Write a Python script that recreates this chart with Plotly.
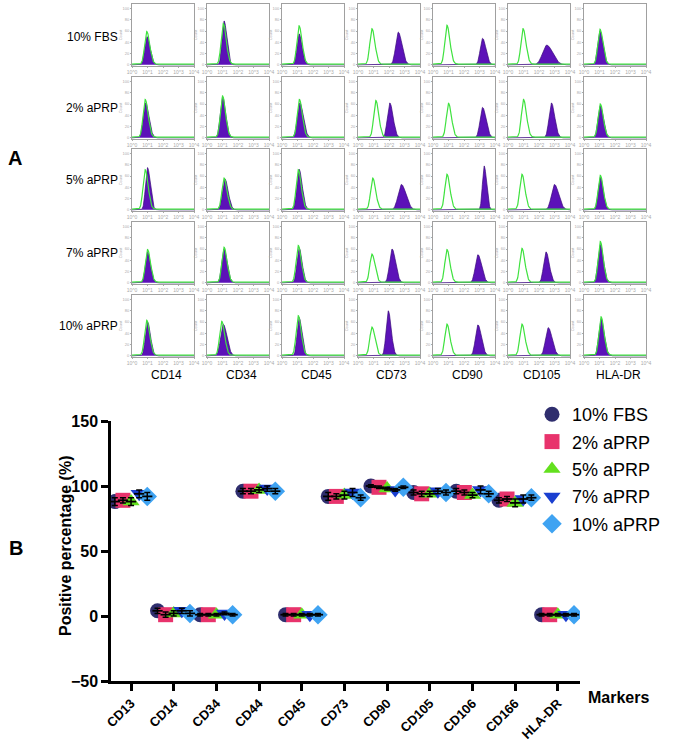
import plotly.graph_objects as go
import numpy as np

W, H = 685, 755
def fx(px): return px / W
def fy(py): return 1 - py / H

# ---------------- Panel A data (flow cytometry histograms) ----------------
hist_markers = ["CD14", "CD34", "CD45", "CD73", "CD90", "CD105", "HLA-DR"]
conditions = ["10% FBS", "2% aPRP", "5% aPRP", "7% aPRP", "10% aPRP"]
# isotype control (green) peak position in log10 units, relative height
iso_log = [[0.95, 1.05, 1.10, 0.90, 0.90, 0.97, 1.03],
           [0.85, 1.00, 1.12, 1.15, 1.00, 1.00, 1.05],
           [0.85, 1.10, 1.05, 0.95, 0.90, 0.90, 1.05],
           [1.00, 1.10, 1.05, 0.90, 0.90, 0.90, 1.05],
           [0.95, 0.95, 1.05, 0.90, 0.90, 0.90, 1.10]]
iso_h = [[0.58, 0.72, 0.68, 0.63, 0.69, 0.63, 0.62],
         [0.67, 0.73, 0.67, 0.65, 0.60, 0.67, 0.59],
         [0.70, 0.55, 0.70, 0.55, 0.62, 0.62, 0.60],
         [0.58, 0.62, 0.65, 0.50, 0.58, 0.60, 0.72],
         [0.62, 0.60, 0.70, 0.50, 0.55, 0.55, 0.68]]
# stained sample (purple) peak position, height, spread (log10 units)
pos_log = [[0.97, 1.10, 1.10, 2.60, 3.20, 2.50, 1.03],
           [0.88, 1.00, 1.15, 2.05, 3.20, 2.80, 1.05],
           [1.00, 1.15, 1.10, 2.80, 3.30, 3.00, 1.05],
           [1.00, 1.10, 1.10, 2.20, 2.90, 2.45, 1.05],
           [1.00, 1.05, 1.10, 1.95, 2.90, 2.60, 1.10]]
pos_h = [[0.50, 0.78, 0.55, 0.58, 0.47, 0.35, 0.60],
         [0.62, 0.73, 0.62, 0.62, 0.54, 0.62, 0.57],
         [0.75, 0.55, 0.72, 0.45, 0.78, 0.45, 0.58],
         [0.55, 0.60, 0.62, 0.60, 0.50, 0.55, 0.68],
         [0.60, 0.56, 0.68, 0.80, 0.55, 0.50, 0.66]]
pos_sd = [[0.17, 0.15, 0.16, 0.20, 0.18, 0.32, 0.17],
          [0.18, 0.17, 0.19, 0.18, 0.19, 0.18, 0.17],
          [0.15, 0.18, 0.17, 0.25, 0.13, 0.23, 0.16],
          [0.16, 0.17, 0.16, 0.19, 0.20, 0.18, 0.17],
          [0.16, 0.20, 0.15, 0.16, 0.19, 0.21, 0.17]]
iso_sd = 0.16

# ---------------- Panel B data ----------------
markers = ["CD13", "CD14", "CD34", "CD44", "CD45", "CD73", "CD90", "CD105", "CD106", "CD166", "HLA-DR"]
groups = ["10% FBS", "2% aPRP", "5% aPRP", "7% aPRP", "10% aPRP"]
fbs10 = [88, 4, 1, 96, 1, 92, 100, 95, 96, 89, 1]
aprp2 = [89, 1, 1, 96, 1, 92, 99, 94, 95, 90, 1]
aprp5 = [88, 2, 1, 97, 1, 93, 98, 94, 93, 87, 1]
aprp7 = [94, 4, 2, 98, 1, 95, 97, 96, 97, 90, 1]
aprp10 = [92, 2, 1, 96, 1, 91, 99, 95, 94, 91, 1]
fbs10_sd = [3, 2, 1, 2, 1, 3, 1, 2, 2, 2, 1]
aprp2_sd = [2, 2, 1, 2, 1, 2, 1, 2, 2, 2, 1]
aprp5_sd = [3, 2, 1, 2, 1, 3, 1, 2, 2, 3, 1]
aprp7_sd = [3, 2, 1, 2, 1, 3, 1, 2, 3, 3, 1]
aprp10_sd = [3, 2, 1, 2, 1, 2, 1, 2, 2, 2, 1]

series = [fbs10, aprp2, aprp5, aprp7, aprp10]
series_sd = [fbs10_sd, aprp2_sd, aprp5_sd, aprp7_sd, aprp10_sd]
symbols = ["circle", "square", "triangle-up", "triangle-down", "diamond"]
colors = ["#2f2e6e", "#e8336c", "#63e01e", "#1a3fd0", "#3fa3f2"]
offsets = [-0.38, -0.19, 0.0, 0.19, 0.38]

fig = go.Figure()
layout = {}

col_left = [132, 207, 282, 358, 433, 508, 584]
row_top = [4, 77, 149, 222, 295]
cw, ch = 62, 62

xs = np.linspace(0, 4, 241)

def peak(c, h, s):
    sl, sr = s * 0.85, s * 1.2
    z = np.where(xs < c, (xs - c) / sl, (xs - c) / sr)
    return h * np.exp(-0.5 * z ** 2)

k = 0
for r in range(5):
    for c in range(7):
        k += 1
        xa = "x" if k == 1 else f"x{k}"
        ya = "y" if k == 1 else f"y{k}"
        xkey = "xaxis" if k == 1 else f"xaxis{k}"
        ykey = "yaxis" if k == 1 else f"yaxis{k}"
        ypos = peak(pos_log[r][c], pos_h[r][c], pos_sd[r][c])
        yiso = peak(iso_log[r][c], iso_h[r][c], iso_sd) + 0.012
        fig.add_trace(go.Scatter(x=xs, y=ypos, mode="lines", fill="tozeroy",
                                 fillcolor="#5c12b8", line=dict(color="#38087a", width=0.7),
                                 xaxis=xa, yaxis=ya, showlegend=False, hoverinfo="skip"))
        fig.add_trace(go.Scatter(x=xs, y=yiso, mode="lines",
                                 line=dict(color="#3fe23f", width=1.2),
                                 xaxis=xa, yaxis=ya, showlegend=False, hoverinfo="skip"))
        layout[xkey] = dict(domain=[fx(col_left[c]), fx(col_left[c] + cw)], anchor=ya,
                            range=[0, 4], showline=True, mirror=True, linecolor="#a0a0a0",
                            linewidth=1, showgrid=False, zeroline=False,
                            tickvals=[0, 1, 2, 3, 4],
                            ticktext=["10^0", "10^1", "10^2", "10^3", "10^4"],
                            tickfont=dict(size=5, color="#aaa"), ticks="outside",
                            ticklen=1, tickcolor="#aaa")
        layout[ykey] = dict(domain=[fy(row_top[r] + ch), fy(row_top[r])], anchor=xa,
                            range=[-0.02, 1.08], showline=True, mirror=True,
                            linecolor="#a0a0a0", linewidth=1, showgrid=False,
                            zeroline=False, tickvals=[0, 0.2, 0.4, 0.6, 0.8, 1.0],
                            ticktext=["0", "20", "40", "60", "80", "100"],
                            tickfont=dict(size=4, color="#aaa"), ticks="outside",
                            ticklen=1, tickcolor="#aaa",
                            title=dict(text="Count", font=dict(size=4, color="#aaa"), standoff=0))

# ---------------- Panel B ----------------
kb = k + 1
xa, ya = f"x{kb}", f"y{kb}"
xpos = np.arange(len(markers))
for g in range(5):
    fig.add_trace(go.Scatter(
        x=xpos + offsets[g], y=series[g], mode="markers", name=groups[g],
        legendgroup=groups[g],
        marker=dict(symbol=symbols[g], color=colors[g], size=15, line=dict(width=0)),
        xaxis=xa, yaxis=ya))
# mean and SD bars drawn over the markers
for g in range(5):
    fig.add_trace(go.Scatter(
        x=xpos + offsets[g], y=series[g], mode="markers", showlegend=False,
        marker=dict(size=1, opacity=0), hoverinfo="skip",
        error_y=dict(type="data", array=series_sd[g], color="black", thickness=1.5, width=3),
        error_x=dict(type="constant", value=0.12, color="black", thickness=1.8, width=0),
        xaxis=xa, yaxis=ya))

layout[f"xaxis{kb}"] = dict(domain=[fx(111), fx(580)], anchor=ya, range=[-0.47, 10.52],
                            showline=True, linecolor="black", linewidth=2.5,
                            ticks="outside", ticklen=7, tickwidth=2.5, tickcolor="black",
                            tickvals=list(xpos), ticktext=markers, tickangle=-45,
                            tickfont=dict(family="Arial", size=13, color="black", weight="bold"),
                            showgrid=False, zeroline=False)
layout[f"yaxis{kb}"] = dict(domain=[fy(681), fy(421)], anchor=xa, range=[-50, 150],
                            showline=True, linecolor="black", linewidth=2.5,
                            ticks="outside", ticklen=7, tickwidth=2.5, tickcolor="black",
                            tickvals=[-50, 0, 50, 100, 150],
                            tickfont=dict(family="Arial", size=16, color="black", weight="bold"),
                            showgrid=False, zeroline=False)

annotations = []
row_mid = [37, 108, 180, 253, 326]
for r in range(5):
    annotations.append(dict(x=fx(120), y=fy(row_mid[r]), xref="paper", yref="paper",
                            text=conditions[r], showarrow=False, xanchor="right",
                            yanchor="middle", font=dict(family="Arial", size=12, color="black")))
for c in range(7):
    annotations.append(dict(x=fx(col_left[c] + cw / 2 + 3), y=fy(375), xref="paper", yref="paper",
                            text=hist_markers[c], showarrow=False, xanchor="center",
                            yanchor="middle", font=dict(family="Arial", size=12, color="black")))
annotations += [
    dict(x=fx(15), y=fy(158), xref="paper", yref="paper", text="<b>A</b>", showarrow=False,
         xanchor="center", yanchor="middle", font=dict(family="Arial", size=20, color="black")),
    dict(x=fx(16), y=fy(548), xref="paper", yref="paper", text="<b>B</b>", showarrow=False,
         xanchor="center", yanchor="middle", font=dict(family="Arial", size=20, color="black")),
    dict(x=fx(586), y=fy(697), xref="paper", yref="paper", text="<b>Markers</b>", showarrow=False,
         xanchor="left", yanchor="middle", font=dict(family="Arial", size=16, color="black")),
    dict(x=fx(65), y=fy(546), xref="paper", yref="paper", text="<b>Positive percentage (%)</b>",
         showarrow=False, textangle=-90, xanchor="center", yanchor="middle",
         font=dict(family="Arial", size=16, color="black")),
]

fig.update_layout(
    width=W, height=H, margin=dict(l=0, r=0, t=0, b=0, autoexpand=False),
    paper_bgcolor="white", plot_bgcolor="white",
    font=dict(family="Arial"),
    annotations=annotations,
    legend=dict(x=fx(532), y=fy(396), xanchor="left", yanchor="top",
                font=dict(family="Arial", size=18, color="black"),
                tracegroupgap=1, bgcolor="rgba(0,0,0,0)"),
    **layout,
)

fig.write_html("out.html", config={"displayModeBar": False},
               post_script="document.body.style.margin='0px';document.body.style.padding='0px';")
